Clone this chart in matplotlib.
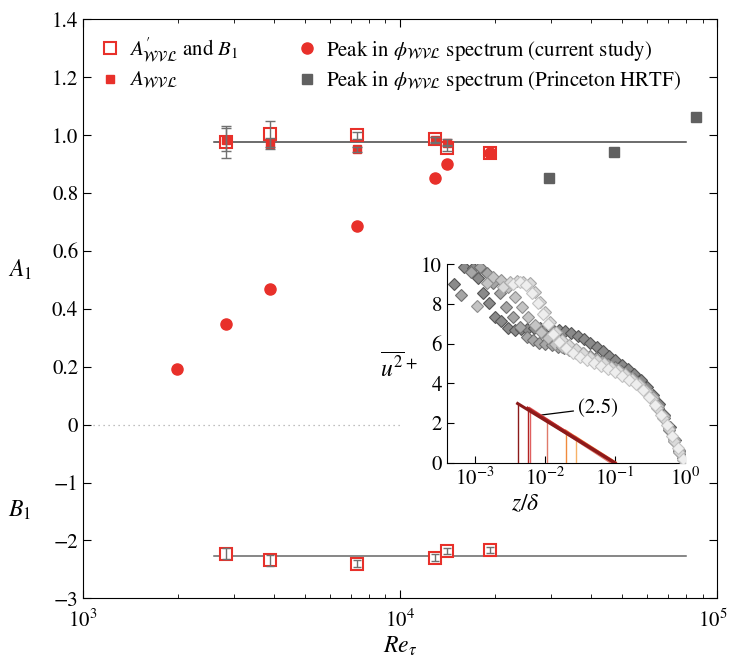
import numpy as np
import matplotlib
matplotlib.use("Agg")
import matplotlib.pyplot as plt
import matplotlib.transforms as mtransforms
from matplotlib.lines import Line2D

plt.rcParams['font.family'] = ['STIXGeneral', 'DejaVu Sans']
plt.rcParams['mathtext.fontset'] = 'stix'

RED = '#e8302a'
GREY = '#606060'
BAR = '#707070'

# Reynolds numbers of the fits
re_fit = np.array([2825, 3900, 7310, 12880, 14060, 19230])
a_prime = np.array([0.976, 1.005, 0.999, 0.985, 0.955, 0.938])
a_prime_err = np.array([0.055, 0.045, 0.012, 0.010, 0.010, 0.0])
a_wvl = np.array([0.984, 0.971, 0.951, 0.982, 0.973])
a_wvl_err = np.array([0.040, 0.020, 0.008, 0.010, 0.012])
b1 = np.array([-2.228, -2.344, -2.400, -2.297, -2.188, -2.171])
b1_err = np.array([0.10, 0.10, 0.06, 0.06, 0.05, 0.05])

# peak of the spectrum, current study and Princeton HRTF
re_peak = np.array([1983, 2825, 3900, 7310, 12880, 14060, 19230])
a_peak = np.array([0.193, 0.347, 0.467, 0.685, 0.851, 0.899, 0.938])
re_hrtf = np.array([29500, 47200, 85700])
a_hrtf = np.array([0.852, 0.942, 1.061])

A1_MEAN = 0.975
B1_MEAN = -2.27
re_line = np.array([2590, 79800])

# inset: streamwise variance profiles (log10 z/delta, u2+)
prof_logz = [
    [-3.30, -3.16, -3.02, -2.95, -2.88, -2.79, -2.71, -2.62, -2.52, -2.43, -2.34, -2.25,
     -2.16, -2.07, -1.98, -1.89, -1.80, -1.71, -1.62, -1.53, -1.44, -1.35, -1.26, -1.17,
     -1.08, -0.99, -0.90, -0.81, -0.72, -0.63, -0.54, -0.45, -0.37, -0.29, -0.21, -0.14,
     -0.08, -0.03],
    [-3.19, -3.05, -2.93, -2.83, -2.74, -2.64, -2.55, -2.45, -2.36, -2.26, -2.17, -2.08,
     -1.99, -1.90, -1.81, -1.72, -1.63, -1.54, -1.45, -1.36, -1.27, -1.18, -1.09, -1.00,
     -0.91, -0.82, -0.73, -0.64, -0.55, -0.46, -0.38, -0.30, -0.22, -0.15, -0.08, -0.02],
    [-2.97, -2.83, -2.74, -2.62, -2.52, -2.43, -2.33, -2.24, -2.14, -2.05, -1.95, -1.85,
     -1.75, -1.65, -1.55, -1.45, -1.35, -1.25, -1.15, -1.05, -0.95, -0.85, -0.75, -0.65,
     -0.55, -0.46, -0.38, -0.30, -0.22, -0.15, -0.08, -0.02],
    [-2.60, -2.50, -2.40, -2.31, -2.21, -2.14, -2.07, -2.00, -1.92, -1.84, -1.75, -1.65,
     -1.55, -1.45, -1.35, -1.25, -1.15, -1.05, -0.95, -0.85, -0.75, -0.65, -0.56, -0.47,
     -0.39, -0.31, -0.23, -0.15, -0.08, -0.02],
    [-2.45, -2.36, -2.27, -2.18, -2.10, -2.03, -1.96, -1.88, -1.80, -1.70, -1.60, -1.50,
     -1.40, -1.30, -1.20, -1.10, -1.00, -0.90, -0.80, -0.70, -0.60, -0.51, -0.42, -0.34,
     -0.26, -0.18, -0.10, -0.03],
]
prof_u2 = [
    [9.00, 9.88, 9.80, 9.29, 8.54, 8.06, 7.36, 7.15, 6.77, 6.70, 6.72, 6.75,
     6.78, 6.78, 6.80, 6.75, 6.70, 6.65, 6.52, 6.40, 6.22, 6.05, 5.85, 5.62,
     5.40, 5.18, 4.95, 4.72, 4.45, 4.15, 3.82, 3.42, 2.95, 2.40, 1.80, 1.15,
     0.60, 0.25],
    [8.45, 9.60, 9.88, 9.55, 9.04, 8.54, 7.87, 7.36, 6.86, 6.35, 6.18, 6.05,
     5.98, 5.92, 5.85, 5.78, 5.70, 5.62, 5.52, 5.40, 5.27, 5.12, 4.98, 4.82,
     4.62, 4.42, 4.20, 3.92, 3.60, 3.22, 2.78, 2.25, 1.65, 1.10, 0.55, 0.20],
    [7.90, 9.04, 9.38, 9.20, 8.87, 8.37, 7.87, 7.36, 6.94, 6.60, 6.27, 6.00,
     5.82, 5.68, 5.55, 5.42, 5.28, 5.14, 4.98, 4.82, 4.65, 4.46, 4.25, 4.00,
     3.68, 3.30, 2.88, 2.35, 1.75, 1.20, 0.65, 0.20],
    [8.87, 9.12, 9.18, 9.12, 9.04, 8.62, 8.12, 7.60, 7.10, 6.60, 6.18, 5.93,
     5.72, 5.52, 5.35, 5.18, 5.02, 4.85, 4.66, 4.45, 4.22, 3.95, 3.62, 3.22,
     2.78, 2.25, 1.68, 1.10, 0.55, 0.15],
    [9.00, 9.10, 8.95, 8.55, 8.05, 7.50, 7.00, 6.50, 6.10, 5.80, 5.55, 5.35,
     5.18, 5.02, 4.88, 4.72, 4.56, 4.38, 4.18, 3.95, 3.65, 3.30, 2.90, 2.42,
     1.90, 1.35, 0.75, 0.20],
]
prof_face = ['#8a8a8a', '#a6a6a6', '#c4c4c4', '#dadada', '#eeeeee']
prof_edge = ['#555555', '#707070', '#8e8e8e', '#a8a8a8', '#c2c2c2']

# lower bound of the log region for each Re (same order as re_fit)
z_min = np.array([0.0277, 0.020, 0.0107, 0.0061, 0.0057, 0.0041])
fit_colors = ['#f7b267', '#f08a3c', '#e07a6a', '#e06060', '#b22222', '#8c1a1a']


def fwd(y):
    y = np.asarray(y, dtype=float)
    return np.where(y >= 0, y / 0.2, y)


def inv(t):
    t = np.asarray(t, dtype=float)
    return np.where(t >= 0, t * 0.2, t)


fig = plt.figure(figsize=(7.3, 6.62), dpi=100)
ax = fig.add_axes([0.1137, 0.0962, 0.8685, 0.8746])
ax.set_xscale('log')
ax.set_yscale('function', functions=(fwd, inv))
ax.set_xlim(1e3, 1e5)
ax.set_ylim(-3, 1.4)

ax.plot([1e3, 1e4], [0, 0], color='#aaaaaa', lw=0.9, ls=(0, (1, 3)), zorder=1)
ax.plot(re_line, [A1_MEAN, A1_MEAN], color='#444444', lw=1.1, zorder=2)
ax.plot(re_line, [B1_MEAN, B1_MEAN], color='#666666', lw=1.1, zorder=2)

# markers first, error bars drawn on top of them
ax.plot(re_fit, a_prime, 's', ms=9, mfc='white', mec=RED, mew=1.5, zorder=3)
ax.plot(re_fit, b1, 's', ms=9, mfc='white', mec=RED, mew=1.5, zorder=3)
ax.plot(re_fit[:5], a_wvl, 's', ms=6, mfc=RED, mec=RED, zorder=4)
ax.errorbar(re_fit, a_prime, yerr=a_prime_err, fmt='none', ecolor=BAR,
            elinewidth=1, capsize=3.5, zorder=5)
ax.errorbar(re_fit, b1, yerr=b1_err, fmt='none', ecolor=BAR,
            elinewidth=1, capsize=3, zorder=5)
ax.errorbar(re_fit[:5], a_wvl, yerr=a_wvl_err, fmt='none', ecolor=BAR,
            elinewidth=1, capsize=3.5, zorder=5)
ax.plot(re_peak, a_peak, 'o', ms=8, color=RED, mec=RED, zorder=6)
ax.plot(re_hrtf, a_hrtf, 's', ms=7, color=GREY, zorder=6)

ax.set_xticks([1e3, 1e4, 1e5])
ax.set_yticks([-3, -2, -1, 0, 0.2, 0.4, 0.6, 0.8, 1.0, 1.2, 1.4])
ax.set_yticklabels(['\u22123', '\u22122', '\u22121', '0', '0.2', '0.4', '0.6', '0.8',
                    '1.0', '1.2', '1.4'])
ax.tick_params(which='both', direction='in', top=True, right=True, labelsize=15)
ax.tick_params(which='major', length=6)
ax.tick_params(which='minor', length=3)
ax.tick_params(axis='x', pad=8)
ax.set_xlabel(r'$Re_\tau$', fontsize=17, labelpad=2)

# keep the 10^5 label inside the figure edge
shift = mtransforms.ScaledTranslation(-4 / 100, 0, fig.dpi_scale_trans)
last = ax.get_xticklabels()[-1]
last.set_transform(last.get_transform() + shift)

ytr = ax.get_yaxis_transform()
ax.text(-0.10, 0.533, r'$A_1$', transform=ytr, fontsize=17, ha='center', va='center')
ax.text(-0.10, -1.48, r'$B_1$', transform=ytr, fontsize=17, ha='center', va='center')

handles = [
    Line2D([], [], ls='none', marker='s', ms=9, mfc='white', mec=RED, mew=1.5),
    Line2D([], [], ls='none', marker='s', ms=6, mfc=RED, mec=RED),
    Line2D([], [], ls='none', marker='o', ms=8, color=RED),
    Line2D([], [], ls='none', marker='s', ms=7, color=GREY),
]
ax.legend(handles,
          [r"$A^{\prime}_{\mathcal{WVL}}$ and $B_1$", r'$A_{\mathcal{WVL}}$',
           r'Peak in $\phi_{\mathcal{WVL}}$ spectrum (current study)',
           r'Peak in $\phi_{\mathcal{WVL}}$ spectrum (Princeton HRTF)'],
          ncol=2, loc='upper left', bbox_to_anchor=(0.0, 1.0), frameon=False,
          fontsize=15, handlelength=1.0, handletextpad=0.4, columnspacing=2.8,
          labelspacing=0.3, borderaxespad=0.4)

# inset with the variance profiles
ins = fig.add_axes([0.612, 0.301, 0.326, 0.2997])
ins.set_xscale('log')
ins.set_xlim(10 ** -3.4, 1.0)
ins.set_ylim(0, 10)
for spine in ['top', 'right']:
    ins.spines[spine].set_visible(False)

for lz, u2, fc, ec in zip(prof_logz, prof_u2, prof_face, prof_edge):
    ins.plot(10 ** np.array(lz), u2, 'D', ms=6.5, mfc=fc, mec=ec, mew=0.8, zorder=3)

for zm, a, b, c in zip(z_min, a_prime, b1, fit_colors):
    z_end = np.exp(b / a)
    z = np.array([zm, z_end])
    u_top = b - a * np.log(zm)
    ins.plot([zm, zm], [0, u_top], color=c, lw=1.0, zorder=4)
    ins.plot(z, b - a * np.log(z), color=c, lw=2.2, zorder=4)

ins.annotate('(2.5)', xy=(0.0087, 2.40), xytext=(0.0295, 2.76), fontsize=15,
             va='center', arrowprops=dict(arrowstyle='-', color='black', lw=0.9,
                                          shrinkA=1, shrinkB=0))

ins.set_xticks([1e-3, 1e-2, 1e-1, 1e0])
ins.set_yticks([0, 2, 4, 6, 8, 10])
ins.tick_params(which='both', direction='in', labelsize=15)
ins.tick_params(which='major', length=5)
ins.tick_params(which='minor', length=2.5)
ins.set_ylabel(r'$\overline{u^2}^+$', fontsize=17, rotation=0, ha='center', va='center')
ins.yaxis.set_label_coords(-0.2, 0.48)
ins.set_xlabel(r'$z/\delta$', fontsize=17)
ins.xaxis.set_label_coords(0.33, -0.155)

fig.savefig('out.png', dpi=100)
